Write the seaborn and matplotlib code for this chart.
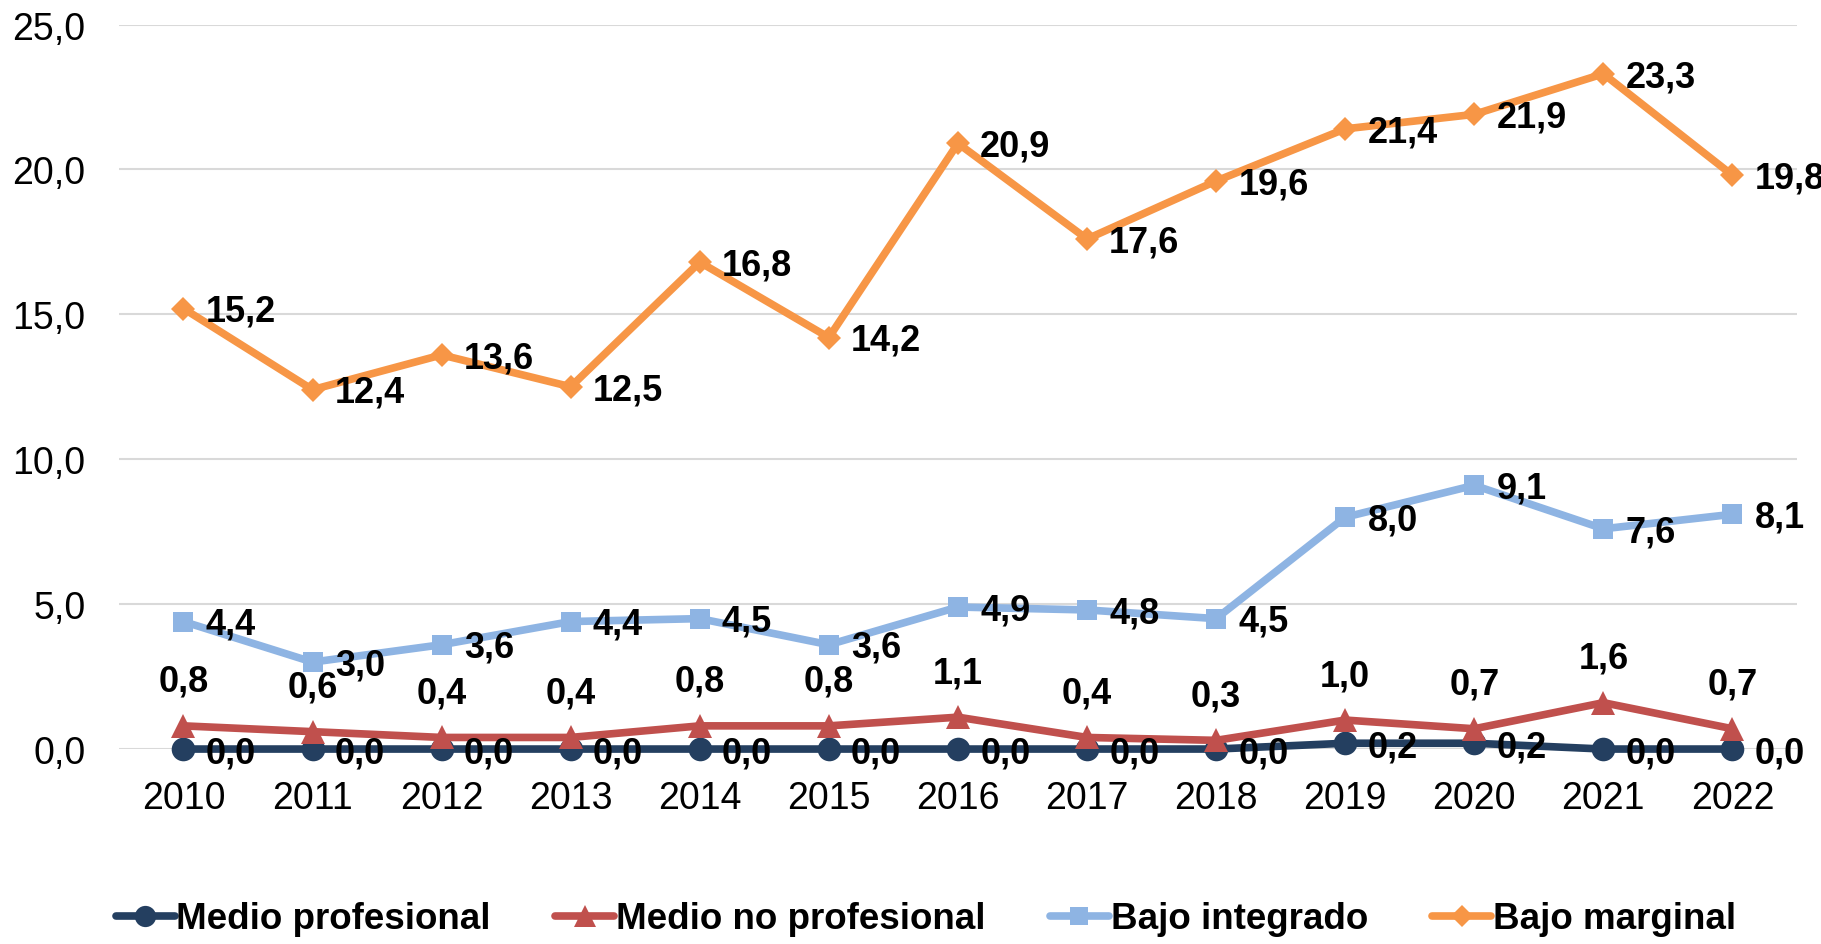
import numpy as np
import pandas as pd
import seaborn as sns
import matplotlib
matplotlib.use("Agg")
import matplotlib.pyplot as plt

years = [2010, 2011, 2012, 2013, 2014, 2015, 2016, 2017, 2018, 2019, 2020, 2021, 2022]
medio_prof = [0.0, 0.0, 0.0, 0.0, 0.0, 0.0, 0.0, 0.0, 0.0, 0.2, 0.2, 0.0, 0.0]
medio_no_prof = [0.8, 0.6, 0.4, 0.4, 0.8, 0.8, 1.1, 0.4, 0.3, 1.0, 0.7, 1.6, 0.7]
bajo_integrado = [4.4, 3.0, 3.6, 4.4, 4.5, 3.6, 4.9, 4.8, 4.5, 8.0, 9.1, 7.6, 8.1]
bajo_marginal = [15.2, 12.4, 13.6, 12.5, 16.8, 14.2, 20.9, 17.6, 19.6, 21.4, 21.9, 23.3, 19.8]

series_names = ["Medio profesional", "Medio no profesional", "Bajo integrado", "Bajo marginal"]
yticks = [0, 5, 10, 15, 20, 25]

sns.set_theme(style="white")
plt.rcParams['font.family'] = ['Liberation Sans', 'DejaVu Sans']
plt.rcParams['text.color'] = 'black'
plt.rcParams['xtick.color'] = 'black'
plt.rcParams['ytick.color'] = 'black'

def fmt(v):
    return ("%.1f" % v).replace(".", ",")

fig = plt.figure(figsize=(18.21, 9.45), dpi=100)
ax = fig.add_axes([0.0653, 0.2063, 0.9215, 0.7667])

styles = [
    # color, marker, markersize, label offset (points), ha
    ("#243F60", "o", 17, (16, -3), "left"),
    ("#C0504D", "^", 17, (0, 32), "center"),
    ("#8EB4E3", "s", 15, (16, -2), "left"),
    ("#F79646", "D", 12, (16, -2), "left"),
]
all_vals = [medio_prof, medio_no_prof, bajo_integrado, bajo_marginal]

for name, vals, (col, mk, ms, off, ha) in zip(series_names, all_vals, styles):
    sns.lineplot(x=years, y=vals, ax=ax, color=col, linewidth=5.5, marker=mk,
                 markersize=ms, markeredgewidth=0, markeredgecolor=col, label=name,
                 clip_on=False)
    for x, v in zip(years, vals):
        ax.annotate(fmt(v), (x, v), xytext=off, textcoords="offset points",
                    ha=ha, va="center", fontsize=26, fontweight="bold", color="black",
                    annotation_clip=False)

ax.set_xlim(years[0] - 0.5, years[-1] + 0.5)
ax.set_ylim(0, 25)
ax.set_yticks(yticks)
ax.set_yticklabels([fmt(t) for t in yticks])
ax.set_xticks(years)
ax.set_xticklabels([str(y) for y in years])
ax.grid(axis="y", color="#D9D9D9", linewidth=1.5)
ax.set_axisbelow(True)
for s in ax.spines.values():
    s.set_visible(False)
ax.tick_params(axis="y", length=0, pad=24, labelsize=27)
ax.tick_params(axis="x", length=0, pad=22, labelsize=27)
ax.set_xlabel("")
ax.set_ylabel("")

handles, labels = ax.get_legend_handles_labels()
ax.get_legend().remove()
fig.legend(handles, labels, loc="lower center", bbox_to_anchor=(0.5085, -0.027), ncol=4,
           frameon=False, prop={"size": 26.5, "weight": "bold"}, handlelength=1.6,
           handletextpad=0.05, columnspacing=1.75, markerscale=0.9)

fig.savefig("out.png", dpi=100)
